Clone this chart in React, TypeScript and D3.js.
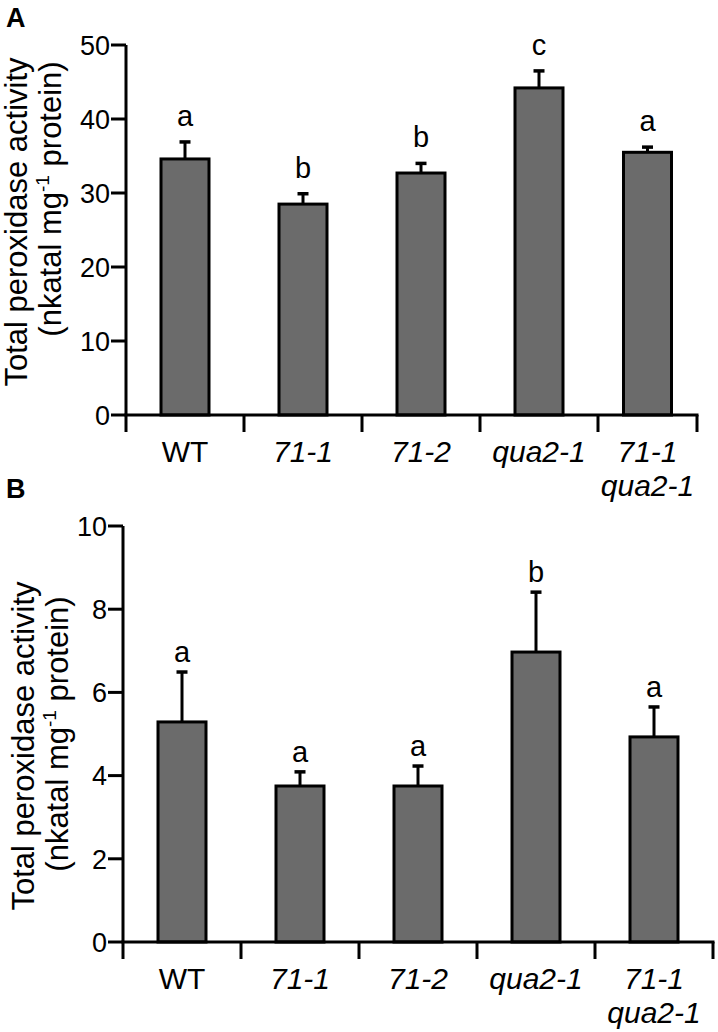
import React from "react";
import * as d3 from "d3";

// ---- data ----
const categories = ["WT", "71-1", "71-2", "qua2-1", "71-1 qua2-1"];
const categoryLines = [["WT"], ["71-1"], ["71-2"], ["qua2-1"], ["71-1", "qua2-1"]];
const categoryItalic = [false, true, true, true, true];

const meansA = [34.6, 28.5, 32.7, 44.2, 35.5];
const errsA = [2.3, 1.4, 1.3, 2.3, 0.7];
const lettersA = ["a", "b", "b", "c", "a"];
const ticksA = [0, 10, 20, 30, 40, 50];

const meansB = [5.29, 3.75, 3.75, 6.97, 4.93];
const errsB = [1.2, 0.34, 0.48, 1.44, 0.72];
const lettersB = ["a", "a", "a", "b", "a"];
const ticksB = [0, 2, 4, 6, 8, 10];

const yTitle1 = "Total peroxidase activity";

const FONT = "'Liberation Sans', Arial, Helvetica, sans-serif";
const BAR_FILL = "#6b6b6b";

type PanelProps = {
  label: string;
  means: number[];
  errs: number[];
  letters: string[];
  ticks: number[];
  layout: {
    labelY: number;
    x0: number;
    step: number;
    xEnd: number;
    yBottom: number;
    yTop: number;
    letterGap: number;
    title1X: number;
    title2X: number;
    title1Y: number;
    title2Y: number;
  };
};

function Panel({ label, means, errs, letters, ticks, layout }: PanelProps) {
  const L = layout;
  const y = d3
    .scaleLinear()
    .domain([ticks[0], ticks[ticks.length - 1]])
    .range([L.yBottom, L.yTop]);
  const xb = d3
    .scaleBand<string>()
    .domain(categories)
    .range([L.x0, L.x0 + L.step * categories.length])
    .paddingInner(0)
    .paddingOuter(0);
  const bounds = categories.map((c) => xb(c) as number).concat([L.xEnd]);
  const centers = categories.map((_, i) => (bounds[i] + bounds[i + 1]) / 2);
  const barW = 48;
  const capW = 11;
  const sw = 3;

  return (
    <g>
      <text x={6} y={L.labelY} fontFamily={FONT} fontWeight="bold" fontSize={27} fill="#000">
        {label}
      </text>

      {/* y title */}
      <text
        transform={`translate(${L.title1X},${L.title1Y}) rotate(-90)`}
        textAnchor="middle"
        fontFamily={FONT}
        fontSize={31}
        fill="#000"
      >
        {yTitle1}
      </text>
      <text
        transform={`translate(${L.title2X},${L.title2Y}) rotate(-90)`}
        textAnchor="middle"
        fontFamily={FONT}
        fontSize={31}
        fill="#000"
      >
        <tspan>(nkatal mg</tspan>
        <tspan fontSize={19} dy={-12}>-1</tspan>
        <tspan dy={12}> protein)</tspan>
      </text>

      {/* bars */}
      {means.map((m, i) => (
        <g key={i}>
          <line
            x1={centers[i]}
            x2={centers[i]}
            y1={y(m)}
            y2={y(m + errs[i])}
            stroke="#000"
            strokeWidth={sw}
          />
          <line
            x1={centers[i] - capW / 2}
            x2={centers[i] + capW / 2}
            y1={y(m + errs[i])}
            y2={y(m + errs[i])}
            stroke="#000"
            strokeWidth={sw + 0.5}
          />
          <rect
            x={centers[i] - barW / 2}
            y={y(m)}
            width={barW}
            height={y(0) - y(m)}
            fill={BAR_FILL}
            stroke="#000"
            strokeWidth={sw}
          />
          <text
            x={centers[i]}
            y={y(m + errs[i]) - L.letterGap}
            textAnchor="middle"
            fontFamily={FONT}
            fontSize={29}
            fill="#000"
          >
            {letters[i]}
          </text>
        </g>
      ))}

      {/* y axis */}
      <line x1={L.x0} x2={L.x0} y1={y(ticks[0])} y2={y(ticks[ticks.length - 1])} stroke="#000" strokeWidth={sw} />
      {ticks.map((t) => (
        <g key={t}>
          <line x1={L.x0 - 15} x2={L.x0} y1={y(t)} y2={y(t)} stroke="#000" strokeWidth={sw} />
          <text
            x={L.x0 - 16}
            y={y(t)}
            dy="0.36em"
            textAnchor="end"
            fontFamily={FONT}
            fontSize={27}
            fill="#000"
          >
            {t}
          </text>
        </g>
      ))}

      {/* x axis */}
      <line x1={L.x0 - 1.5} x2={L.xEnd + 1.5} y1={L.yBottom} y2={L.yBottom} stroke="#000" strokeWidth={sw} />
      {bounds.map((b, i) => (
        <line key={i} x1={b} x2={b} y1={L.yBottom} y2={L.yBottom + 17} stroke="#000" strokeWidth={sw} />
      ))}
      {categoryLines.map((lines, i) =>
        lines.map((ln, j) => (
          <text
            key={`${i}-${j}`}
            x={centers[i]}
            y={L.yBottom + 47 + j * 34}
            textAnchor="middle"
            fontFamily={FONT}
            fontSize={30}
            fontStyle={categoryItalic[i] ? "italic" : "normal"}
            fill="#000"
          >
            {ln}
          </text>
        ))
      )}
    </g>
  );
}

export default function App() {
  return (
    <svg
      width={718}
      height={1032}
      viewBox="0 0 718 1032"
      style={{ position: "absolute", left: 0, top: 0, display: "block", background: "#fff" }}
    >
      <rect width={718} height={1032} fill="#fff" />
      <Panel
        label="A"
        means={meansA}
        errs={errsA}
        letters={lettersA}
        ticks={ticksA}
        layout={{
          labelY: 27,
          x0: 126,
          step: 118,
          xEnd: 697,
          yBottom: 415,
          yTop: 45,
          letterGap: 16,
          title1X: 27,
          title2X: 61,
          title1Y: 222,
          title2Y: 199,
        }}
      />
      <Panel
        label="B"
        means={meansB}
        errs={errsB}
        letters={lettersB}
        ticks={ticksB}
        layout={{
          labelY: 498,
          x0: 123,
          step: 118,
          xEnd: 713,
          yBottom: 942,
          yTop: 526,
          letterGap: 10,
          title1X: 34,
          title2X: 68,
          title1Y: 746,
          title2Y: 734,
        }}
      />
    </svg>
  );
}
